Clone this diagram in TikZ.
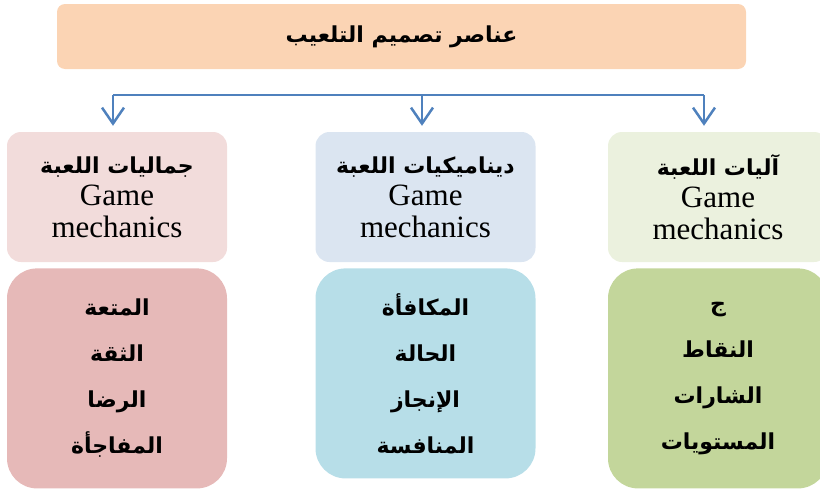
\documentclass[tikz,border=0pt]{standalone}
\usepackage{fontspec}
\setmainfont{Liberation Serif}
\newfontfamily\arabicfont[Script=Arabic]{DejaVu Sans}
\TeXXeTstate=1
\usetikzlibrary{positioning, arrows.meta}

\definecolor{titlefill}{HTML}{FBD4B4}
\definecolor{busblue}{HTML}{4F81BD}
\definecolor{pinkhead}{HTML}{F2DCDB}
\definecolor{pinkbody}{HTML}{E6B9B8}
\definecolor{bluehead}{HTML}{DBE5F1}
\definecolor{bluebody}{HTML}{B7DEE8}
\definecolor{greenhead}{HTML}{EBF1DE}
\definecolor{greenbody}{HTML}{C3D69B}

\newcommand\artext[1]{{\arabicfont\bfseries\fontsize{22}{32}\selectfont\beginR #1\endR}}

\begin{document}
\begin{tikzpicture}[x=1pt,y=-1pt,>={Straight Barb[length=16pt,width=22pt,line width=2.5pt]},
  box/.style={rounded corners=14pt,minimum width=220pt,align=center,inner sep=0pt},
  head/.style={box,minimum height=130pt,font=\fontsize{31}{32}\selectfont},
  body/.style={box,rounded corners=30pt,minimum height=220pt,font=\fontsize{22}{46}\selectfont},
  bus/.style={draw=busblue,line width=2.5pt}]
\useasboundingbox (0,0) rectangle (820,490);
\clip (0,0) rectangle (820,490);

\node[box,fill=titlefill,rounded corners=8pt,minimum width=689pt,minimum height=65pt,
  font=\fontsize{22}{28}\selectfont] (title) at (401.5,36.5) {\artext{عناصر تصميم التلعيب}};

\node[head,fill=pinkhead] (h1) at (117,197) {\artext{جماليات اللعبة}\\Game\\mechanics};
\node[head,fill=bluehead] (h2) at (425.5,197) {\artext{ديناميكيات اللعبة}\\Game\\mechanics};
\node[head,fill=greenhead] (h3) at (718,197) {\artext{آليات اللعبة}\\Game\\mechanics};

\node[body,fill=pinkbody,below=6pt of h1] (b1) {\artext{المتعة}\\\artext{الثقة}\\\artext{الرضا}\\\artext{المفاجأة}};
\node[body,fill=bluebody,below=6pt of h2,minimum height=210pt] (b2) {\artext{المكافأة}\\\artext{الحالة}\\\artext{الإنجاز}\\\artext{المنافسة}};
\node[body,fill=greenbody,below=6pt of h3] (b3) {\artext{ج}\\\artext{النقاط}\\\artext{الشارات}\\\artext{المستويات}};

% bus under the title
\coordinate (bl) at (113,95);
\coordinate (bm) at (422,95);
\coordinate (br) at (704,95);
\draw[bus] (bl) -- (br);
\draw[bus,->,shorten >=6pt] (bl) -- (bl |- h1.north);
\draw[bus,->,shorten >=6pt] (bm) -- (bm |- h2.north);
\draw[bus,->,shorten >=6pt] (br) -- (br |- h3.north);
\end{tikzpicture}
\end{document}
